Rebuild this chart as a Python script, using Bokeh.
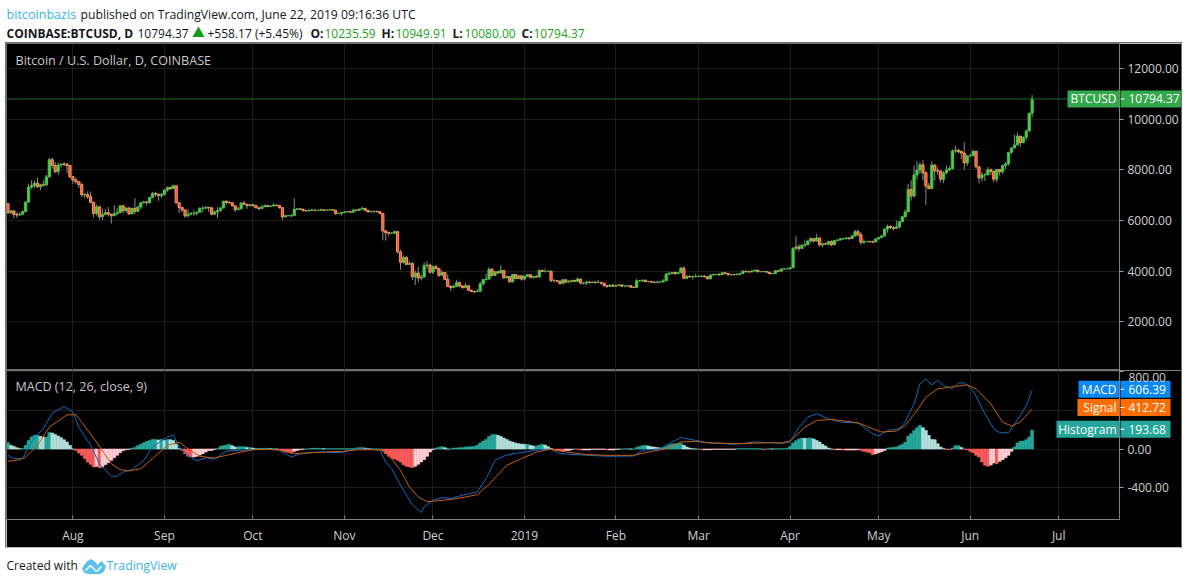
import pandas as pd
from bokeh.core.properties import value
from bokeh.embed import file_html
from bokeh.resources import INLINE
from bokeh.plotting import figure
from bokeh.models import ColumnDataSource, FixedTicker, Label, Range1d, Span, NumeralTickFormatter, Column

FONT = "Open Sans"
first_open = 6664
closes = [
6300,6380,6240,6220,6250,6350,6730,7320,7380,7470,7330,7410,7400,7720,8400,8170,7930,8190,8230,8220,8170,7730,
7600,7530,7420,7010,7030,6940,6720,6280,6540,6150,6240,6310,6250,6190,6270,6310,6580,6390,6490,6260,6480,6360,6530,6700,6730,6710,6910,7070,7040,6980,7030,
7200,7300,7260,7370,6700,6510,6410,6180,6250,6280,6280,6330,6480,6480,6520,6500,6250,6340,6390,6490,6760,6710,6700,6580,6430,6460,6690,6640,6590,6620,
6590,6500,6470,6540,6590,6550,6570,6610,6590,6510,6140,6190,6190,6190,6440,6460,6440,6390,6380,6410,6410,6400,6400,6420,6400,6410,6420,6410,6270,6280,6310,
6340,6350,6330,6410,6400,6450,6480,6400,6340,6360,6360,6350,6280,5590,5520,5500,5500,5560,4760,4350,4540,4270,4300,3780,3930,3730,3770,4230,4240,3960,
4180,4110,3840,3950,3680,3400,3360,3400,3550,3420,3350,3430,3250,3200,3190,3210,3500,3670,3690,4080,3830,3980,3930,4030,3750,3790,3580,3870,3710,3820,3690,
3800,3860,3760,3790,3770,4030,3990,3990,4000,3630,3630,3610,3510,3660,3570,3600,3640,3600,3690,3530,3530,3570,3550,3570,3560,3560,3530,3430,3400,3450,3410,
3440,3460,3410,3420,3430,3370,3360,3620,3620,3650,3590,3590,3570,3560,3570,3580,3620,3880,3910,3950,3900,3950,4120,3720,3800,3780,3790,3790,
3800,3810,3780,3700,3850,3860,3870,3860,3940,3910,3860,3870,3860,3870,3910,4000,3980,3970,4010,4040,3980,3980,3990,3960,3900,3910,4020,4000,4090,4090,4100,
4140,4900,4960,4900,5030,5040,5190,5290,5190,5310,5040,5080,5070,5170,5040,5210,5230,5280,5280,5310,5290,5390,5560,5440,5140,5170,5170,5160,5150,5270,
5330,5390,5660,5770,5720,5690,5740,5950,6150,6340,7220,6970,7800,7990,8200,7880,7360,7260,8190,7960,7950,7630,7880,7990,8050,8740,8770,8720,8660,8270,8550,
8560,8730,8120,7680,7800,7800,8000,7930,7630,8010,7920,8170,8230,8690,8860,8980,9330,9070,9280,9530,10236.2,10794.37]
highs = [
6680,6400,6390,6330,6320,6390,6750,7450,7580,7570,7690,7450,7580,7800,8480,8480,8310,8290,8240,8300,8280,8180,
7750,7690,7540,7500,7090,7150,7150,6730,6630,6570,6470,6460,6530,6270,6610,6480,6600,6590,6540,6530,6500,6880,6570,6730,6780,6780,6930,7130,7140,7060,7080,
7240,7340,7340,7410,7390,6720,6540,6460,6450,6340,6400,6360,6530,6580,6560,6530,6530,6390,6530,6550,6780,6800,6780,6710,6580,6550,6740,6780,6630,6640,
6650,6600,6510,6600,6630,6600,6600,6680,6620,6590,6510,6220,6210,6260,6880,6490,6480,6480,6410,6420,6470,6430,6420,6470,6420,6440,6440,6430,6420,6310,6340,
6370,6380,6360,6470,6440,6460,6550,6490,6410,6370,6390,6380,6350,6300,5630,5570,5540,5620,5560,4860,4620,4600,4400,4370,4040,4180,3850,4360,4400,4300,
4230,4260,4130,4050,3960,3880,3450,3480,3660,3580,3430,3530,3440,3270,3240,3290,3590,3680,3910,4150,4110,4000,4000,4240,4030,3830,3810,3890,3880,3840,3830,
3840,3880,3870,3810,3850,4080,4050,4110,4030,4030,3700,3650,3620,3700,3680,3650,3660,3650,3760,3700,3560,3620,3600,3590,3600,3650,3560,3530,3440,3470,3480,
3470,3480,3470,3430,3440,3440,3390,3690,3650,3660,3660,3610,3630,3590,3630,3610,3690,3930,3990,3970,3980,3970,4170,4190,3840,3820,3830,3900,
3840,3830,3830,3790,3880,3910,3900,3930,3970,3940,3930,3890,3880,3920,3930,4040,4000,4010,4030,4060,4060,4000,4000,4000,3970,3930,4040,4030,4110,4120,4110,
4160,4950,5380,5070,5060,5210,5250,5340,5290,5470,5340,5120,5120,5190,5220,5240,5260,5310,5320,5350,5340,5420,5640,5640,5540,5270,5200,5200,5210,5290,
5340,5420,5690,5840,5810,5780,6000,5980,6180,6430,7450,7590,8160,8340,8300,8390,7950,7480,8330,8200,8100,8000,7950,8170,8150,8800,8950,8840,8770,9090,8590,
8630,8810,8750,8140,7920,7880,8120,8060,7980,8040,8040,8210,8310,8690,8890,9380,9470,9340,9320,9590,10235,10949.91]
lows = [
6280,6280,6080,6100,6190,6240,6330,6680,7240,7280,7290,7200,7340,7370,7700,8050,7860,7800,8090,8130,7860,7650,
7440,7450,7280,6930,6880,6850,6670,6120,6200,6030,6020,6200,6160,5880,6180,6210,6290,6280,6320,6220,6250,6250,6350,6450,6670,6600,6650,6880,6930,6780,6880,
7000,7120,7200,7230,6660,6300,6330,6110,6130,6220,6180,6200,6330,6320,6460,6340,6200,6230,6100,6350,6490,6620,6670,6550,6330,6400,6450,6620,6460,6550,
6540,6480,6400,6470,6540,6530,6530,6570,6570,6470,6030,6150,6170,6120,6190,6420,6410,6360,6360,6370,6400,6380,6370,6390,6390,6390,6400,6400,6220,6260,6200,
6320,6330,6310,6300,6370,6380,6440,6380,6320,6340,6300,6320,6250,5220,5200,5390,5460,5490,4700,4050,4300,4240,4250,3650,3460,3550,3630,3770,4100,3900,
3890,4060,3770,3830,3660,3400,3220,3320,3390,3370,3310,3350,3230,3170,3130,3190,3200,3430,3640,3670,3790,3800,3900,3920,3680,3690,3550,3560,3700,3680,3630,
3630,3770,3730,3700,3760,3750,3970,3940,3960,3560,3550,3570,3480,3510,3530,3560,3540,3570,3590,3480,3470,3450,3520,3530,3510,3530,3460,3380,3350,3380,3390,
3380,3410,3390,3390,3410,3340,3350,3350,3590,3580,3570,3550,3550,3530,3540,3560,3560,3620,3860,3880,3860,3890,3900,3700,3700,3740,3680,3750,
3790,3760,3760,3680,3680,3830,3850,3820,3860,3880,3830,3820,3840,3840,3860,3910,3950,3950,3960,3990,3950,3970,3970,3950,3880,3890,3910,3990,3990,4050,4080,
4050,4140,4800,4780,4890,4950,5040,5120,5130,5170,4970,4950,5040,5020,4990,5030,5180,5210,5230,5260,5220,5270,5380,5360,5040,5060,5140,5130,5100,5140,
5260,5320,5380,5520,5660,5600,5670,5690,5940,6100,6330,6780,6900,7610,7840,7570,6620,7230,7260,7570,7800,7500,7470,7820,7950,8000,8650,8640,8420,8000,8150,
8480,8530,8050,7460,7550,7560,7780,7790,7520,7500,7770,7840,8030,8170,8620,8850,8970,8900,9050,9170,9520,10080.0]
hist_values = [
65,38,27,14,3,3,38,89,123,141,
141,130,123,123,171,165,151,134,117,96,
72,38,0,
-14,-41,-65,-99,-134,-158,-185,-180,-192,-185,
-161,-141,-117,-89,-65,-38,-17,-7,-3,7,
17,34,48,65,79,89,99,99,93,99,
89,99,96,89,48,3,-14,-48,-75,-82,
-82,-75,-62,-48,-31,-14,-14,-3,3,27,
34,41,48,34,21,24,24,24,17,17,
10,0,7,7,7,7,3,3,0,-10,
-21,-31,-34,-41,-24,-14,-7,-3,0,3,
7,7,7,7,3,3,3,3,3,3,
3,3,3,3,3,10,14,14,10,3,
0,0,0,0,-14,-48,-75,-96,-103,-117,
-134,-161,-178,-185,-192,-178,-158,-134,-110,-75,
-31,-7,10,17,24,14,0,0,10,10,
14,14,21,24,24,27,38,62,82,99,
130,147,151,141,130,113,99,82,72,62,
55,51,48,48,38,31,31,41,48,41,
24,7,-7,-14,-21,-24,-14,-14,-7,0,
-3,-10,-10,-10,-10,-3,-3,-3,-3,-3,
-10,-10,-10,-3,-3,0,3,3,0,0,
17,27,34,38,31,24,21,17,10,17,
27,41,51,55,58,58,38,21,10,3,
0,0,-7,-7,-7,-7,-3,-3,-3,-3,
-3,-3,-3,-3,3,3,3,3,3,3,
3,3,3,-7,0,3,0,3,3,3,
3,7,27,62,86,103,113,110,113,113,
103,89,72,48,31,10,0,-7,-7,-7,
-10,-10,-10,-10,-10,-7,-14,-24,-31,-38,
-58,-48,-38,-27,-14,10,14,17,21,34,
48,69,134,158,192,220,244,220,192,141,
99,96,55,21,3,-3,-7,10,34,34,
17,-3,-7,-24,-38,-65,-82,-134,-168,-178,
-165,-144,-151,-127,-110,-89,-65,-24,21,62,
79,82,96,123,193.68]
macd_days = [-22,-20,-17,-15,-13,-10,-7,-3,0,2,6,9,13,15,17,20,24,27,31,34,36,39,42,45,48,52,57,61,66,70,74,77,83,91,96,101,
104,106,108,111,115,118,119,122,125,128,132,137,140,143,146,149,154,159,162,165,170,175,181,190,193,199,203,206,211,215,224,231,236,
240,243,246,249,252,256,260,266,271,273,276,280,282,285,287,289,291,293,295,298,300,302,305,309,312,314,317,321,323,325]
macd_vals = [-65,-99,-99,20,123,209,370,439,381,226,38,-151,-281,-281,-237,-213,-117,21,106,147,21,-65,-123,-89,-106,-21,-14,-7,-3,-14,-82,-48,-31,-38,3,-3,
-14,-134,-202,-374,-573,-655,-597,-528,-501,-511,-477,-442,-305,-117,-72,-48,-27,-3,-3,-48,-58,-65,-75,-72,-14,3,72,117,89,65,48,72,65,
58,72,226,329,364,312,278,268,158,134,192,209,278,466,672,724,662,707,655,621,679,683,604,364,209,168,168,346,449,606.39]
signal_days = [-22,-18,-16,-12,-8,-2,1,3,8,13,16,19,23,27,32,36,39,43,48,52,57,61,69,75,83,91,97,104,107,
111,114,117,120,123,128,132,137,141,147,152,157,162,167,174,181,190,196,201,206,211,215,225,236,
240,243,248,252,257,266,271,274,279,282,286,289,293,297,303,306,311,315,318,321,325]
signal_vals = [-127,-110,-82,38,226,353,353,278,72,-151,-213,-226,-202,-99,38,69,3,-75,-93,-65,-31,-7,-3,-48,-34,-24,-7,-7,-60,
-220,-391,-494,-542,-535,-521,-501,-470,-364,-168,-99,-31,0,-31,-58,-65,-65,-24,3,72,79,65,55,65,
62,82,226,295,305,271,209,175,185,244,398,535,621,638,662,621,466,278,237,278,412.72]
tick_dates = ["2018-08-01","2018-09-01","2018-10-01","2018-11-01","2018-12-01","2019-01-01","2019-02-01","2019-03-01","2019-04-01","2019-05-01","2019-06-01","2019-07-01"]
tick_labels = ["Aug","Sep","Oct","Nov","Dec","2019","Feb","Mar","Apr","May","Jun","Jul"]
price_ticks = [2000,4000,6000,8000,10000,12000]
macd_ticks = [-400,0,400,800]

n = len(closes)
assert len(highs) == n and len(lows) == n and len(hist_values) == n
assert len(macd_days) == len(macd_vals) and len(signal_days) == len(signal_vals)

DAY = 86400000
base = pd.Timestamp("2018-08-01")
dates = pd.date_range("2018-07-10", periods=n, freq="D")
opens = [first_open] + closes[:-1]
opens[-1] = 10235.59
to_ms = lambda t: int(pd.Timestamp(t).timestamp() * 1000)
ticks = [to_ms(t) for t in tick_dates]
overrides = {k: v for k, v in zip(ticks, tick_labels)}
x0 = to_ms(base) - 22.5 * DAY
x1 = to_ms(base) + 354.6 * DAY

UP, DOWN = "#4fd04a", "#f4512f"
UP_L, DOWN_L = "#46c046", "#f99a62"
src = ColumnDataSource(dict(x=dates, o=opens, c=closes, h=highs, l=lows,
    top=[max(a, b) for a, b in zip(opens, closes)], bot=[min(a, b) for a, b in zip(opens, closes)],
    fill=[UP if c >= o else DOWN for o, c in zip(opens, closes)],
    line=[UP_L if c >= o else DOWN_L for o, c in zip(opens, closes)]))

def style(p, yticks):
    p.background_fill_color = "black"
    p.border_fill_color = "black"
    p.outline_line_color = "#707070"
    p.xgrid.ticker = FixedTicker(ticks=ticks)
    p.ygrid.ticker = FixedTicker(ticks=yticks)
    p.xgrid.grid_line_color = "#1d1d1d"
    p.ygrid.grid_line_color = "#1d1d1d"
    ax = p.yaxis[0]
    ax.ticker = FixedTicker(ticks=yticks)
    ax.formatter = NumeralTickFormatter(format="0.00")
    ax.axis_line_color = "#808080"
    ax.major_tick_line_color = "#a0a0a0"
    ax.major_tick_out = 4
    ax.major_tick_in = 0
    ax.minor_tick_line_color = None
    ax.major_label_text_color = "#d0d0d0"
    ax.major_label_text_font = FONT
    ax.major_label_text_font_size = "12px"
    ax.major_label_standoff = 4

# header
hd = figure(width=1181, height=43, x_range=Range1d(0, 1181), y_range=Range1d(43, 0), toolbar_location=None,
            output_backend="svg", x_axis_location=None, y_axis_location=None, min_border=0, outline_line_color=None)
hd.grid.visible = False
header_rows = [
    ("bitcoinbazis", 6, 14, "#3bb4e6", "normal", "12.6px"),
    ("published on TradingView.com, June 22, 2019 09:16:36 UTC", 80, 14, "#131722", "normal", "12.2px"),
    ("COINBASE:BTCUSD, D", 6, 33, "#131722", "bold", "12px"),
    ("10794.37", 137, 33, "#131722", "normal", "12px"),
    ("+558.17 (+5.45%)", 207, 33, "#131722", "normal", "12px"),
    ("O:", 310, 33, "#131722", "bold", "12px"), ("10235.59", 324, 33, "#19a319", "normal", "12px"),
    ("H:", 381, 33, "#131722", "bold", "12px"), ("10949.91", 395, 33, "#19a319", "normal", "12px"),
    ("L:", 452, 33, "#131722", "bold", "12px"), ("10080.00", 464, 33, "#19a319", "normal", "12px"),
    ("C:", 521, 33, "#131722", "bold", "12px"), ("10794.37", 533, 33, "#19a319", "normal", "12px"),
]
for t, x, y, col, st, fs in header_rows:
    hd.add_layout(Label(x=x, y=y, text=t, text_color=col, text_font=FONT, text_font_size=fs,
                        text_font_style=st, text_baseline="middle"))
hd.scatter([198], [33], marker="triangle", size=12, color="#0f9d0f", line_color=None)

# price pane: frame page y 43..370
PR = (83, 12983)
p1 = figure(width=1175, height=327, x_axis_type="datetime", y_axis_location="right", toolbar_location=None,
            output_backend="svg", x_range=Range1d(x0, x1), y_range=Range1d(*PR),
            min_border_left=0, min_border_right=62, min_border_top=0, min_border_bottom=0)
style(p1, price_ticks)
p1.xaxis.visible = False
p1.segment("x", "h", "x", "l", source=src, line_color="#8c8c8c", line_width=1)
p1.vbar("x", width=DAY * 0.75, top="top", bottom="bot", source=src, fill_color="fill", line_color="line", line_width=1)
p1.add_layout(Span(location=closes[-1], dimension="width", line_color="#1f6b2a", line_width=1))
p1.add_layout(Label(x=9, y=12310, x_units="screen", text="Bitcoin / U.S. Dollar, D, COINBASE", text_color="#c8c8c8",
                    text_font=FONT, text_font_size="12.6px", text_baseline="middle"))

# MACD pane: frame page y 370..519
MR = (-727, 810)
p2 = figure(width=1175, height=177, x_axis_type="datetime", y_axis_location="right", toolbar_location=None,
            output_backend="svg", x_range=p1.x_range, y_range=Range1d(*MR),
            min_border_left=0, min_border_right=62, min_border_top=0, min_border_bottom=28)
style(p2, macd_ticks)
p2.yaxis[0].major_label_overrides = {400: "", 800: ""}
xa = p2.xaxis[0]
xa.ticker = FixedTicker(ticks=ticks)
xa.major_label_overrides = overrides
xa.axis_line_color = "#808080"
xa.major_tick_line_color = "#7a7a7a"
xa.major_tick_in = 4
xa.major_tick_out = 0
xa.minor_tick_line_color = None
xa.major_label_text_color = "#d0d0d0"
xa.major_label_text_font = FONT
xa.major_label_text_font_size = "12px"
xa.major_label_standoff = 7

prev = [0] + hist_values[:-1]
cols = []
for v, pv in zip(hist_values, prev):
    if v >= 0:
        cols.append("#26a69a" if v >= pv else "#b2dfdb")
    else:
        cols.append("#ffcdd2" if v >= pv else "#f75a5a")
p2.vbar(x=dates, width=DAY, top=hist_values, bottom=0, fill_color=cols, line_color=cols, line_width=0.6)
p2.line(base + pd.to_timedelta(macd_days, unit="D"), macd_vals, line_color="#0a6cc4", line_width=1)
p2.line(base + pd.to_timedelta(signal_days, unit="D"), signal_vals, line_color="#c95f0c", line_width=1)
p2.add_layout(Label(x=9, y=650, x_units="screen", text="MACD (12, 26, close, 9)", text_color="#c8c8c8",
                    text_font=FONT, text_font_size="12.5px", text_baseline="middle"))

panel = Column(p1, p2, spacing=0, margin=(0, 0, 0, 6), styles={"outline": "1px solid #707070"})

# footer
ft = figure(width=1181, height=27, x_range=Range1d(0, 1181), y_range=Range1d(575, 548), toolbar_location=None,
            output_backend="svg", x_axis_location=None, y_axis_location=None, min_border=0, outline_line_color=None)
ft.grid.visible = False
ft.add_layout(Label(x=6, y=566, text="Created with", text_color="#131722", text_font=FONT, text_font_size="12px", text_baseline="middle"))
ft.add_layout(Label(x=106, y=566, text="TradingView", text_color="#3bb4e6", text_font=FONT, text_font_size="12.3px", text_baseline="middle"))
logo_x = [82, 86, 90, 94, 97, 101, 105, 103, 100, 88, 84]
logo_y = [569, 563, 560, 562, 566, 562, 567, 572, 574, 574, 573]
ft.patch(logo_x, logo_y, color="#5bc0eb")
ft.line([85, 90, 96, 101], [571, 566, 572, 567], line_color="white", line_width=1.5)

# overlay carrying the price tags that straddle the axis; its y range is page pixels
py_price = lambda v: 43 + (PR[1] - v) / (PR[1] - PR[0]) * 327
py_macd = lambda v: 370 + (MR[1] - v) / (MR[1] - MR[0]) * 149
ov = figure(width=131, height=504, x_range=Range1d(1050, 1181), y_range=Range1d(547, 43), toolbar_location=None,
            output_backend="svg", x_axis_location=None, y_axis_location=None, min_border=0, outline_line_color=None,
            background_fill_alpha=0, border_fill_alpha=0,
            styles={"position": "absolute", "left": "1050px", "top": "43px"})
ov.grid.visible = False
ov.segment([1119], [370], [1181], [370], line_color="#808080", line_width=1)
tags = [
    ("BTCUSD", "10794.37", py_price(closes[-1]), 1067, 1181, "#33a84a"),
    ("MACD", "606.39", py_macd(macd_vals[-1]) - 1, 1078, 1170, "#0a88f5"),
    ("Signal", "412.72", py_macd(signal_vals[-1]) - 1.5, 1077, 1170, "#ff6d00"),
    ("Histogram", "193.68", py_macd(hist_values[-1]) - 1, 1056, 1170, "#26a69a"),
]
for name, val, y, l, r, col in tags:
    ov.quad(left=[l], right=[1118.5], top=[y - 8.5], bottom=[y + 8.5], color=col, line_color=None)
    ov.quad(left=[1120], right=[r], top=[y - 8.5], bottom=[y + 8.5], color=col, line_color=None)
    ov.segment([1120], [y], [1124], [y], line_color="white", line_width=1)
    ov.text([1116], [y], text=[name], text_color="white", text_font=value(FONT), text_font_size="12px",
            text_align="right", text_baseline="middle")
    ov.text([1128], [y], text=[val], text_color="white", text_font=value(FONT), text_font_size="12px",
            text_align="left", text_baseline="middle")
ov.text([1128], [377], text=["800.00"], text_color="#d0d0d0", text_font=value(FONT), text_font_size="12px",
        text_align="left", text_baseline="middle")

page = Column(hd, panel, ft, ov, spacing=0)
open("out.html", "w").write(file_html(page, INLINE))
